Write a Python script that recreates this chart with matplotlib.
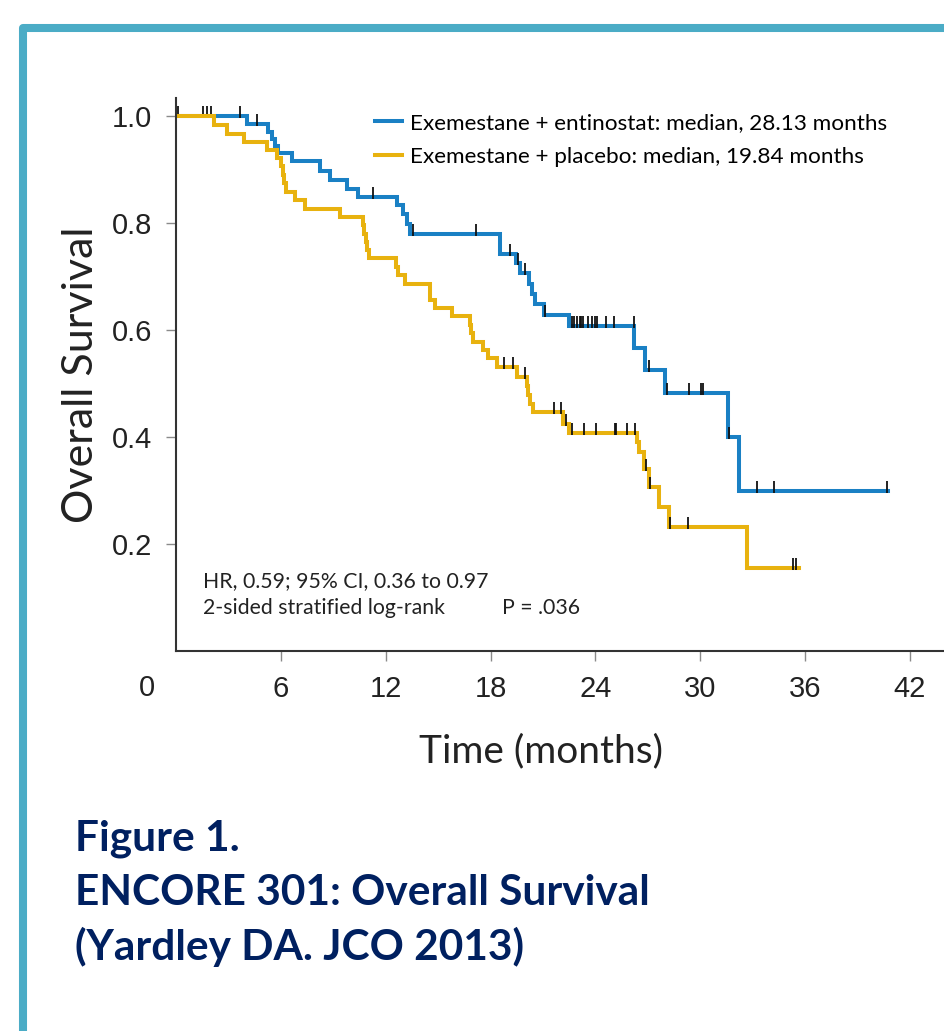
import numpy as np
import matplotlib
matplotlib.use('Agg')
import matplotlib.pyplot as plt
import matplotlib.patches as mpatches
from matplotlib import font_manager
from matplotlib.path import Path

# Kaplan-Meier steps (months, survival after the drop)
entinostat_t = [0, 4.05, 5.28, 5.47, 5.67, 5.86, 6.62, 8.24, 8.82, 9.77, 10.43,
                12.63, 13.0, 13.2, 13.39, 18.55, 19.46, 19.69, 20.22, 20.36,
                20.55, 21.03, 22.46, 26.22, 26.85, 28.0, 31.56, 32.19, 40.76]
entinostat_s = [1.0, 0.985, 0.970, 0.957, 0.945, 0.932, 0.917, 0.897, 0.880,
                0.864, 0.848, 0.833, 0.817, 0.799, 0.779, 0.743, 0.725, 0.706,
                0.687, 0.667, 0.649, 0.628, 0.607, 0.566, 0.525, 0.482, 0.400,
                0.300, 0.300]
entinostat_cens = [0.1, 1.55, 1.77, 2.0, 3.66, 4.62, 11.26, 13.55, 17.15, 19.1,
                   19.55, 19.95, 21.1, 22.65, 22.8, 22.95, 23.1, 23.2, 23.3,
                   23.6, 23.8, 24.0, 24.1, 24.6, 25.05, 26.2, 27.09, 28.09,
                   29.38, 30.05, 30.13, 31.65, 33.27, 34.23, 40.68]

placebo_t = [0, 2.19, 2.90, 3.89, 5.19, 5.76, 6.00, 6.10, 6.20, 6.30, 6.81, 7.38,
             9.39, 10.72, 10.78, 10.85, 10.95, 11.05, 12.6, 12.7, 13.11, 14.54,
             14.83, 15.78, 16.83, 16.9, 17.0, 17.59, 17.88, 18.36, 19.5, 20.07,
             20.15, 20.26, 20.44, 22.17, 22.46, 26.37, 26.5, 26.75, 27.04,
             27.61, 28.18, 32.67, 35.62]
placebo_s = [1.0, 0.983, 0.967, 0.952, 0.937, 0.921, 0.906, 0.890, 0.875, 0.859,
             0.843, 0.827, 0.812, 0.796, 0.780, 0.765, 0.750, 0.734, 0.718,
             0.703, 0.687, 0.656, 0.641, 0.626, 0.610, 0.594, 0.578, 0.563,
             0.547, 0.531, 0.513, 0.496, 0.479, 0.462, 0.446, 0.425, 0.407,
             0.390, 0.373, 0.341, 0.307, 0.270, 0.231, 0.155, 0.155]
placebo_cens = [18.79, 19.31, 19.98, 21.6, 22.02, 22.32, 22.67, 23.37, 24.04,
                25.13, 25.19, 25.83, 26.27, 26.9, 27.1, 28.24, 29.28, 35.3, 35.5]

labels = ['Exemestane + entinostat: median, 28.13 months',
          'Exemestane + placebo: median, 19.84 months']
colors = ['#1a80c4', '#e8b20f']
x_ticks = [6, 12, 18, 24, 30, 36, 42]
y_ticks = [0.2, 0.4, 0.6, 0.8, 1.0]

available = {f.name for f in font_manager.fontManager.ttflist}
narrow = 'Liberation Sans Narrow' if 'Liberation Sans Narrow' in available else 'Liberation Sans'
body = 'Lato'

W, H = 945, 1031
fig = plt.figure(figsize=(W / 100, H / 100), dpi=100)
fig.patch.set_facecolor('white')

# teal frame running off the right and bottom edges
frame = mpatches.Rectangle((23 / W, -0.2), 2, 1 - 28 / H + 0.2, transform=fig.transFigure,
                           fill=False, edgecolor='#4bacc6', linewidth=5.8, joinstyle='round')
fig.add_artist(frame)

ax = fig.add_axes([176 / W, 1 - 651 / H, 1 - 176 / W, (651 - 98) / H])
ax.set_xlim(0, 44.0)
ax.set_ylim(0, 1.034)

tick_marker = Path([(0, -0.15), (0, 1.0)])
series = [(entinostat_t, entinostat_s, entinostat_cens),
          (placebo_t, placebo_s, placebo_cens)]
for (t, s, cens), col, lab in zip(series, colors, labels):
    ax.step(t, s, where='post', color=col, lw=2.9, label=lab, solid_joinstyle='miter')
    t_arr, s_arr = np.asarray(t), np.asarray(s)
    idx = np.searchsorted(t_arr, cens, side='right') - 1
    ax.plot(cens, s_arr[idx], ls='none', marker=tick_marker, ms=15,
            mec='#111111', mew=1.3)

for side in ['top', 'right']:
    ax.spines[side].set_visible(False)
for side in ['left', 'bottom']:
    ax.spines[side].set_color('#333333')
    ax.spines[side].set_linewidth(1.5)

ax.set_xticks(x_ticks)
ax.set_xticklabels([str(v) for v in x_ticks])
ax.set_yticks(y_ticks)
ax.set_yticklabels([f'{v:.1f}' for v in y_ticks])
ax.tick_params(axis='both', direction='out', length=7, width=1, color='#8a8a8a',
               labelsize=21, labelcolor='#222222', pad=10)
for lbl in ax.get_xticklabels() + ax.get_yticklabels():
    lbl.set_family(narrow)
ax.annotate('0', xy=(0, 0), xycoords='data', xytext=(-29, -37),
            textcoords='offset pixels', ha='center', va='center',
            fontsize=21, family=narrow, color='#222222')

ax.set_xlabel('Time (months)', fontsize=28, family=body, color='#222222')
ax.xaxis.set_label_coords((541 - 176) / 769, (651 - 733) / 553)
ax.set_ylabel('Overall Survival', fontsize=31, family=body, color='#222222')
ax.yaxis.set_label_coords((100 - 176) / 769, 0.5)

ax.legend(loc='upper left', bbox_to_anchor=(0.2588, 0.973), frameon=False,
          prop={'family': body, 'size': 16.2}, handlelength=1.2,
          handletextpad=0.36, labelspacing=0.62, borderpad=0, borderaxespad=0)

ax.text(1.53, 0.120, 'HR, 0.59; 95% CI, 0.36 to 0.97', family=body, fontsize=15.3,
        va='baseline', color='#222222')
ax.text(1.53, 0.069, '2-sided stratified log-rank', family=body, fontsize=15.3,
        va='baseline', color='#222222')
ax.text(18.64, 0.069, 'P = .036', family=body, fontsize=15.3, va='baseline',
        color='#222222')

title_lines = ['Figure 1.', 'ENCORE 301: Overall Survival', '(Yardley DA. JCO 2013)']
for line, base in zip(title_lines, [850, 905, 960]):
    fig.text(75 / W, 1 - base / H, line, family=body, fontweight='bold',
             fontsize=30.5, color='#002060', va='baseline')

fig.savefig('out.png', dpi=100, facecolor='white')
